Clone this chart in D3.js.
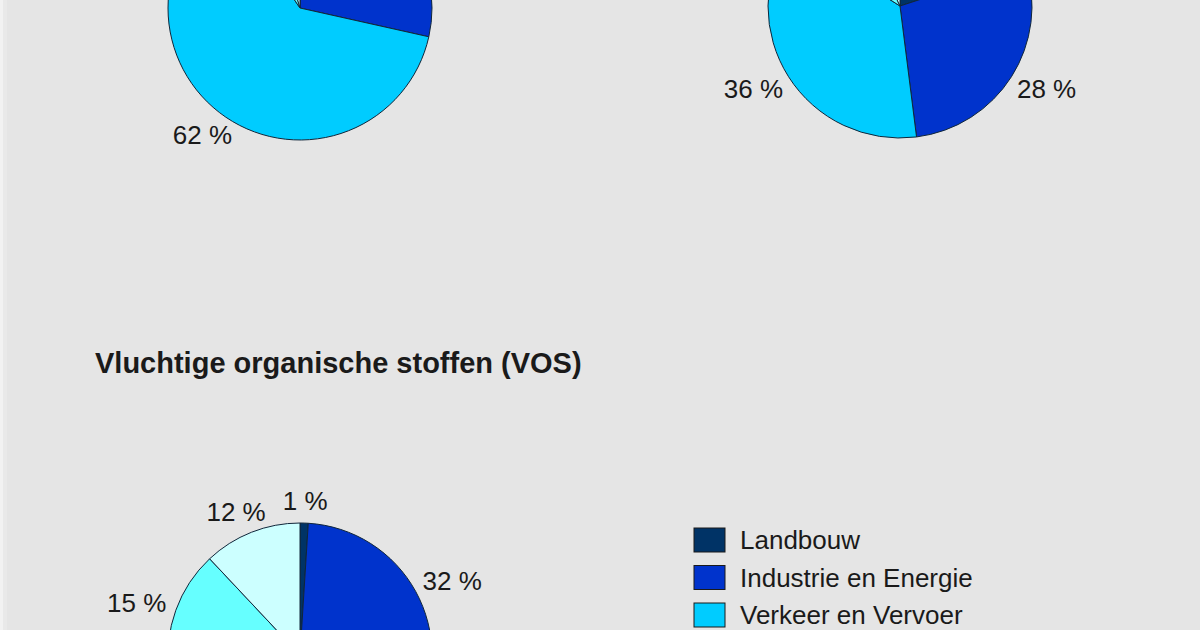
<!DOCTYPE html>
<html>
<head>
<meta charset="utf-8">
<script src="https://cdn.jsdelivr.net/npm/d3@7/dist/d3.min.js"></script>
<style>
  html, body { margin: 0; padding: 0; background: #e5e5e5; }
  svg { display: block; }
  text { font-family: "Liberation Sans", Arial, sans-serif; fill: #1a1a1a; }
</style>
</head>
<body>
<svg id="chart" width="1200" height="630"></svg>
<script>
// ---- data ----
const categories = ["Landbouw", "Industrie en Energie", "Verkeer en Vervoer", "Consumenten", "Overig"];
const colors = ["#003366", "#0033cc", "#00ccff", "#66ffff", "#ccffff"];
const pieTopLeftValues = [0.5, 28, 62, 5, 4.5];
const pieTopRightValues = [20, 28, 36, 9, 7];
const vosValues = [1, 32, 40, 15, 12];
const vosTitle = "Vluchtige organische stoffen (VOS)";
const legendItems = categories.slice(0, 3);

// ---- drawing ----
const W = 1200, H = 630;
const svg = d3.select("#chart");
svg.append("rect").attr("width", W).attr("height", H).attr("fill", "#e5e5e5");
svg.append("rect").attr("x", 0).attr("y", 0).attr("width", 3).attr("height", H).attr("fill", "#f2f2f2");
svg.append("rect").attr("x", 3).attr("y", 0).attr("width", 4).attr("height", H).attr("fill", "#e9e9e9");

const color = d3.scaleOrdinal().domain(categories).range(colors);
const R = 132;
const pieGen = d3.pie().sort(null).value(d => d.value);
const arcGen = d3.arc().innerRadius(0).outerRadius(R);

function drawPie(values, cx, cy) {
  const data = values.map((v, i) => ({ cat: categories[i], value: v }));
  const arcs = pieGen(data);
  const g = svg.append("g").attr("transform", `translate(${cx},${cy})`);
  g.selectAll("path").data(arcs).enter().append("path")
    .attr("d", arcGen)
    .attr("fill", d => color(d.data.cat))
    .attr("stroke", "#10263a")
    .attr("stroke-width", 1);
  const gap = 12;
  arcs.forEach(a => {
    const t = (a.startAngle + a.endAngle) / 2;
    const txt = g.append("text")
      .attr("font-size", 26)
      .attr("text-anchor", "middle")
      .attr("dy", "0.35em")
      .text(`${Math.round(a.data.value)} %`);
    const w = txt.node().getComputedTextLength();
    const h = 20;
    const x = (R + gap) * Math.sin(t) + (w / 2) * Math.sin(t);
    const y = -(R + gap) * Math.cos(t) - (h / 2) * Math.cos(t);
    txt.attr("x", x).attr("y", y);
    const ay = cy + y;
    if (ay < 8 || ay > H - 8) txt.remove();
  });
}

drawPie(pieTopLeftValues, 300, 8);
drawPie(pieTopRightValues, 900, 6);
drawPie(vosValues, 300, 655);

svg.append("text")
  .attr("x", 95).attr("y", 373)
  .attr("font-size", 29).attr("font-weight", "bold")
  .text(vosTitle);

const legend = svg.append("g");
const step = 37.5;
legendItems.forEach((c, i) => {
  legend.append("rect")
    .attr("x", 694).attr("y", 528 + i * step)
    .attr("width", 31).attr("height", 24)
    .attr("fill", color(c))
    .attr("stroke", "#1a1a1a").attr("stroke-width", 1);
  legend.append("text")
    .attr("x", 740).attr("y", 540 + i * step)
    .attr("dy", "0.35em")
    .attr("font-size", 26)
    .text(c);
});
</script>
</body>
</html>
